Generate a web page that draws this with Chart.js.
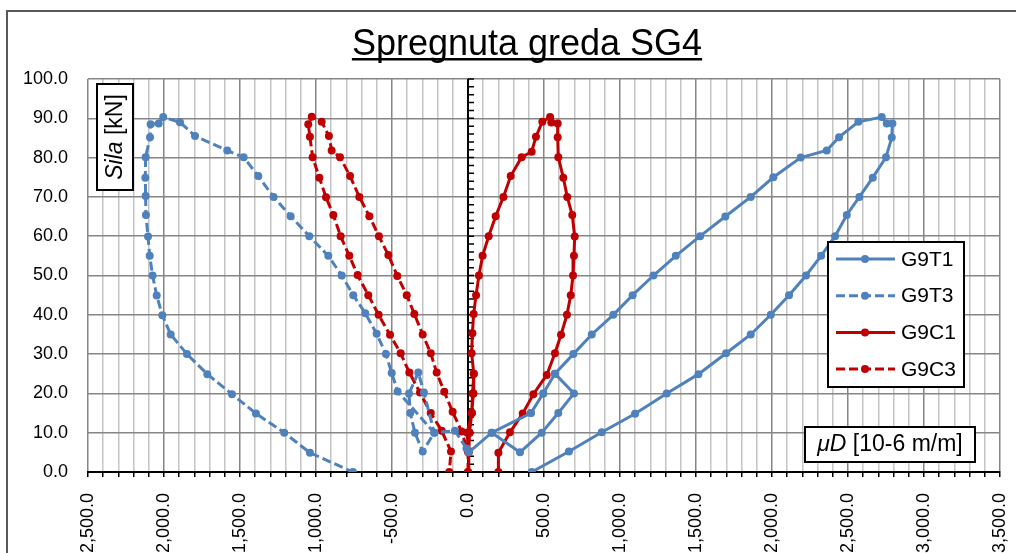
<!DOCTYPE html>
<html>
<head>
<meta charset="utf-8">
<script src="https://cdn.jsdelivr.net/npm/chart.js@4.4.1/dist/chart.umd.min.js"></script>
<style>
  html, body { margin: 0; padding: 0; background: #fff; overflow: hidden; }
</style>
</head>
<body>
<canvas id="c" width="1016" height="553"></canvas>
<script>
// Strain gauge readings vs. applied force, beam SG4
const T1_X = [5, 156, 414, 495, 572, 697, 594, 485, 342, 156, 414, 495, 572, 693, 814, 956, 1083, 1220, 1367, 1527, 1693, 1860, 2009, 2189, 2360, 2441, 2568, 2722, 2755, 2792, 2788, 2750, 2663, 2575, 2492, 2415, 2323, 2224, 2112, 1992, 1860, 1698, 1516, 1307, 1099, 880, 664, 419];
const T1_Y = [5, 10, 15, 20, 25, 20, 15, 10, 5, 10, 15, 20, 25, 30, 35, 40, 45, 50, 55, 60, 65, 70, 75, 80, 81.8, 85.2, 89.1, 90.3, 88.7, 88.7, 85.1, 80.1, 74.9, 70, 65.4, 60, 55, 50, 45, 40, 35, 30.2, 24.9, 20, 14.8, 10.1, 5.2, 0];

const T3_X = [-10, -86, -222, -290, -327, -388, -380, -349, -298, -222, -463, -502, -540, -601, -676, -755, -831, -919, -1044, -1167, -1279, -1380, -1476, -1584, -1796, -1895, -2005, -2035, -2088, -2092, -2121, -2123, -2121, -2119, -2105, -2094, -2075, -2048, -2011, -1956, -1849, -1715, -1553, -1395, -1209, -1040, -757];
const T3_Y = [6, 10.5, 10, 20.2, 25.3, 20, 15, 10, 5.2, 10, 20.5, 25.2, 30, 35.2, 40.4, 45, 50, 55, 60, 65.1, 70, 75.3, 80.1, 81.8, 85.5, 89, 90.3, 88.7, 88.5, 85.2, 80.1, 74.9, 70.2, 65.4, 59.9, 55, 50, 44.9, 39.9, 35, 30, 24.9, 19.8, 14.9, 10, 4.9, 0];

const C1_X = [0, 5, 10, 25, 35, 38, 30, 25, -5, 2, 10, 25, 35, 38, 24, 29, 37, 53, 72, 96, 136, 182, 233, 281, 353, 419, 447, 489, 540, 548, 590, 590, 594, 627, 653, 686, 702, 697, 691, 676, 651, 612, 572, 518, 430, 360, 276, 200, 200];
const C1_Y = [0, 5, 10, 15, 20, 25, 20, 15, 10, 5, 10, 15, 20, 25, 30.2, 35.3, 40.2, 45, 50, 55, 60, 65.1, 70, 75.3, 80.1, 81.5, 85.3, 89.1, 90.3, 88.9, 88.7, 85.2, 80.1, 74.9, 70, 65.4, 59.9, 55, 50, 45, 40, 34.9, 30.2, 24.7, 19.8, 14.9, 10.1, 4.9, 0];

const C3_X = [0, 0, -42, -101, -156, -206, -245, -298, -353, -403, -465, -524, -586, -649, -715, -776, -842, -897, -915, -963, -1028, -1051, -1040, -1022, -978, -934, -886, -838, -781, -726, -656, -588, -513, -443, -386, -316, -245, -173, -112, -123];
const C3_Y = [0, 5.2, 10.3, 15.3, 20.4, 25.3, 30.2, 35, 40.2, 45, 49.9, 55.2, 60, 65.1, 70, 75.3, 80.1, 81.8, 85.5, 89.1, 90.4, 88.5, 85.3, 80.1, 74.9, 69.9, 65.4, 60, 55, 50.1, 45, 40, 34.9, 30.2, 25.3, 20.2, 15, 10.5, 5.2, 0];

const TITLE = 'Spregnuta greda SG4';
const FONT = '"Liberation Sans", Arial, sans-serif';
const BLUE = '#4F81BD';
const RED = '#C00000';

function series(label, xs, ys, color, dashed) {
  return {
    label,
    data: xs.map((x, i) => ({ x, y: ys[i] })),
    showLine: true,
    borderColor: color,
    backgroundColor: color,
    borderWidth: 3,
    borderDash: dashed ? [9, 4] : [],
    pointRadius: 4,
    pointBorderWidth: 0,
  };
}

const fmtX = (v) => v.toLocaleString('en-US', { minimumFractionDigits: 1, maximumFractionDigits: 1 });

// draws text made of [string, italic] runs starting at x
function runs(ctx, parts, x, y, size) {
  for (const [s, it] of parts) {
    ctx.font = `${it ? 'italic ' : ''}${size}px ${FONT}`;
    ctx.fillText(s, x, y);
    x += ctx.measureText(s).width;
  }
}
function runsWidth(ctx, parts, size) {
  let w = 0;
  for (const [s, it] of parts) {
    ctx.font = `${it ? 'italic ' : ''}${size}px ${FONT}`;
    w += ctx.measureText(s).width;
  }
  return w;
}

function box(ctx, x, y, w, h) {
  ctx.fillStyle = '#fff';
  ctx.fillRect(x, y, w, h);
  ctx.strokeStyle = '#000';
  ctx.lineWidth = 2;
  ctx.setLineDash([]);
  ctx.strokeRect(x, y, w, h);
}

const decor = {
  id: 'decor',
  beforeDraw(chart) {
    const { ctx, width, height } = chart;
    ctx.save();
    ctx.strokeStyle = '#595959';
    ctx.lineWidth = 2;
    ctx.beginPath();
    ctx.moveTo(7, height);
    ctx.lineTo(7, 11);
    ctx.lineTo(width, 11);
    ctx.stroke();

    ctx.fillStyle = '#000';
    ctx.font = `36px ${FONT}`;
    ctx.textAlign = 'center';
    ctx.textBaseline = 'alphabetic';
    ctx.fillText(TITLE, 527, 55);
    const tw = ctx.measureText(TITLE).width;
    ctx.fillRect(527 - tw / 2, 58, tw, 2.5);
    ctx.restore();
  },
  beforeDatasetsDraw(chart) {
    // vertical axis through x = 0 with minor ticks every 2 kN
    const { ctx, scales: { x, y } } = chart;
    const px = Math.round(x.getPixelForValue(0));
    ctx.save();
    ctx.strokeStyle = '#000';
    ctx.lineWidth = 2;
    ctx.beginPath();
    ctx.moveTo(px, y.getPixelForValue(0));
    ctx.lineTo(px, y.getPixelForValue(100));
    ctx.stroke();
    ctx.lineWidth = 1.5;
    ctx.beginPath();
    for (let v = 0; v <= 100; v += 2) {
      const py = y.getPixelForValue(v);
      ctx.moveTo(px, py);
      ctx.lineTo(px + 6, py);
    }
    ctx.stroke();
    ctx.restore();
  },
  afterDatasetsDraw(chart) {
    const { ctx } = chart;
    ctx.save();
    ctx.textBaseline = 'middle';
    ctx.textAlign = 'left';

    // y axis title
    box(ctx, 97, 84, 36, 106);
    const yParts = [['Sila', true], [' [kN]', false]];
    ctx.translate(116, 137);
    ctx.rotate(-Math.PI / 2);
    ctx.fillStyle = '#000';
    runs(ctx, yParts, -runsWidth(ctx, yParts, 23) / 2, 0, 23);
    ctx.setTransform(1, 0, 0, 1, 0, 0);

    // x axis title
    box(ctx, 805, 427, 170, 35);
    const xParts = [['\u03bcD', true], [' [10-6 m/m]', false]];
    ctx.fillStyle = '#000';
    runs(ctx, xParts, 890 - runsWidth(ctx, xParts, 23) / 2, 445, 23);

    // legend
    box(ctx, 828, 242, 136, 145);
    chart.data.datasets.forEach((ds, i) => {
      const cy = 259 + i * 36.7;
      ctx.strokeStyle = ds.borderColor;
      ctx.lineWidth = 3;
      ctx.setLineDash(ds.borderDash);
      ctx.beginPath();
      ctx.moveTo(836, cy);
      ctx.lineTo(895, cy);
      ctx.stroke();
      ctx.setLineDash([]);
      ctx.fillStyle = ds.backgroundColor;
      ctx.beginPath();
      ctx.arc(865, cy, 4, 0, Math.PI * 2);
      ctx.fill();
      ctx.fillStyle = '#000';
      ctx.font = `21px ${FONT}`;
      ctx.fillText(ds.label, 901, cy + 1);
    });
    ctx.restore();
  },
};

new Chart(document.getElementById('c'), {
  type: 'scatter',
  data: {
    datasets: [
      series('G9T1', T1_X, T1_Y, BLUE, false),
      series('G9T3', T3_X, T3_Y, BLUE, true),
      series('G9C1', C1_X, C1_Y, RED, false),
      series('G9C3', C3_X, C3_Y, RED, true),
    ],
  },
  options: {
    responsive: false,
    animation: false,
    layout: { padding: { top: 79, right: 16, left: 0, bottom: 0 } },
    plugins: { legend: { display: false }, tooltip: { enabled: false }, title: { display: false } },
    scales: {
      x: {
        type: 'linear',
        min: -2500,
        max: 3500,
        afterFit: (s) => { s.height = 81; s.paddingLeft = 0; s.paddingRight = 0; },
        border: { display: true, color: '#000', width: 2 },
        grid: {
          color: (c) => (Math.round(c.tick.value) % 500 === 0 ? '#868686' : '#c4c4c4'),
          lineWidth: 1.5,
          drawTicks: true,
          tickLength: 5,
          tickColor: '#000',
          tickWidth: 1.5,
        },
        ticks: {
          stepSize: 100,
          autoSkip: false,
          minRotation: 90,
          maxRotation: 90,
          padding: 16,
          color: '#000',
          font: { family: FONT, size: 18 },
          callback: (v) => (Math.round(v) % 500 === 0 ? fmtX(Math.round(v)) : ''),
        },
      },
      y: {
        type: 'linear',
        min: 0,
        max: 100,
        afterFit: (s) => { s.width = 88; s.paddingTop = 0; s.paddingBottom = 0; },
        border: { display: false },
        grid: { color: '#868686', lineWidth: 1.5, drawTicks: false },
        ticks: {
          stepSize: 10,
          padding: 20,
          color: '#000',
          font: { family: FONT, size: 18 },
          callback: (v) => v.toFixed(1),
        },
      },
    },
  },
  plugins: [decor],
});
</script>
</body>
</html>
